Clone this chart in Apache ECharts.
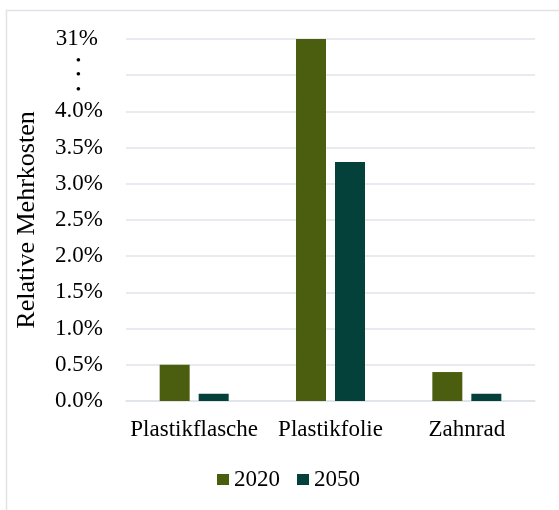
<!DOCTYPE html>
<html><head><meta charset="utf-8">
<script src="https://cdn.jsdelivr.net/npm/echarts@6/dist/echarts.min.js"></script>
<style>html,body{margin:0;padding:0;background:#fff}#c{width:559px;height:510px}</style>
</head><body><div id="c"></div>
<script>
const categories = ['Plastikflasche', 'Plastikfolie', 'Zahnrad'];
const seriesNames = ['2020', '2050'];
const values2020 = [0.5, 31, 0.4];
const values2050 = [0.1, 3.3, 0.1];
const colors = ['#4b5e10', '#03413a'];
// broken axis: values above 4.5% are drawn at the "31%" tick (position 5)
const breakAt = 4.5, breakPos = 5;
const toAxis = v => v > breakAt ? breakPos : v;

const font = '"Liberation Serif", "Times New Roman", serif';
const chart = echarts.init(document.getElementById('c'));
chart.setOption({
  animation: false,
  graphic: [{type: 'rect', shape: {x: 6.5, y: 10.5, width: 600, height: 600}, style: {fill: null, stroke: '#dfe3e8', lineWidth: 1.5}, z: -1}],
  grid: {left: 126, right: 24, top: 39, bottom: 109, containLabel: false},
  legend: {
    data: seriesNames, top: 468, left: 217, padding: 0, itemWidth: 12, itemHeight: 11, itemGap: 17,
    icon: 'rect', textStyle: {fontFamily: font, fontSize: 23, color: '#000'}
  },
  xAxis: {
    type: 'category', data: categories,
    axisLine: {lineStyle: {color: '#dfe3e8', width: 1.5}}, axisTick: {show: false},
    axisLabel: {fontFamily: font, fontSize: 23, color: '#000', margin: 17, interval: 0}
  },
  yAxis: {
    type: 'value', min: 0, max: 5, interval: 0.5,
    name: 'Relative Mehrkosten', nameLocation: 'middle', nameGap: 86,
    nameTextStyle: {fontFamily: font, fontSize: 26, color: '#000'},
    splitLine: {lineStyle: {color: '#dfe3e8', width: 1.5}},
    axisLabel: {
      fontFamily: font, fontSize: 23, color: '#000', margin: 23,
      formatter: v => {
        if (Math.abs(v - breakPos) < 1e-6) return '{t|' + values2020[1] + '%}';
        if (Math.abs(v - breakAt) < 1e-6) return '{d|•}\n{d|•}\n{d|•}';
        return v.toFixed(1) + '%';
      },
      rich: {
        t: {fontFamily: font, fontSize: 23, color: '#000', padding: [0, 5, 0, 0]},
        d: {fontFamily: font, fontSize: 15, color: '#000', lineHeight: 14.5, padding: [0, 22, 0, 0]}
      }
    }
  },
  series: [
    {name: seriesNames[0], type: 'bar', data: values2020.map(toAxis), itemStyle: {color: colors[0]}, barWidth: 30, barGap: '30%'},
    {name: seriesNames[1], type: 'bar', data: values2050.map(toAxis), itemStyle: {color: colors[1]}, barWidth: 30, barGap: '30%'}
  ]
});
</script></body></html>
